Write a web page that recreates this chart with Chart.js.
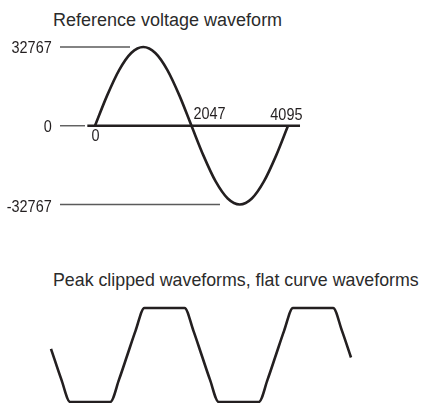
<!DOCTYPE html>
<html>
<head>
<meta charset="utf-8">
<script src="https://cdn.jsdelivr.net/npm/chart.js@4.4.1/dist/chart.umd.min.js"></script>
<style>
  html, body { margin: 0; padding: 0; background: #fff; }
  body { width: 424px; height: 403px; position: relative; overflow: hidden; }
  .title { position: absolute; left: 53px; font: 18px/18px "Liberation Sans", Arial, sans-serif; color: #2b2b2b; white-space: nowrap; }
  #refWrap { position: absolute; left: 0; top: 0; width: 424px; height: 230px; }
  #clipWrap { position: absolute; left: 0; top: 295px; width: 424px; height: 108px; }
</style>
</head>
<body>
<div class="title" style="top:11px">Reference voltage waveform</div>
<div class="title" style="top:271px;font-size:17.8px">Peak clipped waveforms, flat curve waveforms</div>
<div id="refWrap"><canvas id="refChart" width="424" height="230"></canvas></div>
<div id="clipWrap"><canvas id="clipChart" width="424" height="108"></canvas></div>
<script>
// sample index (12-bit table) and 16-bit amplitude of one reference period
const refSamples = [0, 256, 512, 768, 1024, 1280, 1536, 1792, 2047, 2304, 2560, 2816, 3072, 3328, 3584, 3840, 4095];
const refValues  = [0, 12540, 23170, 30273, 32767, 30273, 23170, 12540, 0, -12540, -23170, -30273, -32767, -30273, -23170, -12540, 0];

// full-scale levels shown on the left
const levelTicks = [32767, 0, -32767];
// sample markers along the zero line
const sampleTicks = [0, 2047, 4095];
const sampleTickLabels = ['0', '2047', '4095'];

// guide segments: [fromSample, toSample, level]
const levelGuides = [
  [-743, 743, 32767],
  [-743, -212, 0],
  [-743, 2652, -32767]
];
const zeroAxis = [-163, 4350];

// clipped waveform, phase in degrees and amplitude in the same 16-bit units
const clipPhase  = [-185, -160, -138.6, -41.4, -20, 0, 20, 41.4, 138.6, 160, 180, 200, 221.4, 318.6, 340, 360, 380, 401.4, 498.6, 520, 542];
const clipValues = [2856, -11207, -21626, -21626, -11207, 0, 11207, 21626, 21626, 11207, 0, -11207, -21626, -21626, -11207, 0, 11207, 21626, 21626, 11207, -1144];

const INK = '#231f20';
const GUIDE = '#5a5a5a';
const NUM_FONT = '17px "Liberation Sans", Arial, sans-serif';
const SQUEEZE = 0.85; // numbers are set in a narrow face

const toPoints = (xs, ys) => xs.map((x, i) => ({ x, y: ys[i] }));

const guideSets = levelGuides.map(([a, b, v]) => ({
  data: [{ x: a, y: v }, { x: b, y: v }],
  borderColor: GUIDE,
  borderWidth: 1.4,
  pointRadius: 0,
  clip: false
}));

function narrowText(ctx, text, x, y, align) {
  ctx.save();
  ctx.scale(SQUEEZE, 1);
  ctx.textAlign = align;
  ctx.fillText(text, x / SQUEEZE, y);
  ctx.restore();
}

// level numbers on the left and sample numbers beside the zero line
const waveLabels = {
  id: 'waveLabels',
  afterDatasetsDraw(chart) {
    const { ctx, scales: { x, y } } = chart;
    const y0 = y.getPixelForValue(0);
    const place = [
      { align: 'center', dx: 0.5, dy: 15.7 },
      { align: 'left', dx: 2, dy: -6.7 },
      { align: 'center', dx: -1.6, dy: -6.2 }
    ];
    ctx.save();
    ctx.fillStyle = INK;
    ctx.font = NUM_FONT;
    ctx.textBaseline = 'alphabetic';
    levelTicks.forEach(v => {
      narrowText(ctx, String(v), 51.7, y.getPixelForValue(v) + (v < 0 ? 8 : 6.2), 'right');
    });
    sampleTicks.forEach((v, i) => {
      const p = place[i];
      narrowText(ctx, sampleTickLabels[i], x.getPixelForValue(v) + p.dx, y0 + p.dy, p.align);
    });
    ctx.restore();
  }
};

const baseOptions = (xRange, yRange) => ({
  responsive: false,
  animation: false,
  events: [],
  layout: { padding: 0, autoPadding: false },
  plugins: { legend: { display: false }, tooltip: { enabled: false } },
  scales: {
    x: { type: 'linear', display: false, min: xRange[0], max: xRange[1] },
    y: { type: 'linear', display: false, min: yRange[0], max: yRange[1] }
  }
});

new Chart(document.getElementById('refChart'), {
  type: 'line',
  data: {
    datasets: [
      ...guideSets,
      {
        data: [{ x: zeroAxis[0], y: 0 }, { x: zeroAxis[1], y: 0 }],
        borderColor: INK,
        borderWidth: 2.6,
        pointRadius: 0,
        clip: false
      },
      {
        data: toPoints(refSamples, refValues),
        borderColor: INK,
        borderWidth: 2.6,
        pointRadius: 0,
        cubicInterpolationMode: 'monotone',
        clip: false
      }
    ]
  },
  options: baseOptions([-2016, 6981], [-43379, 52325]),
  plugins: [waveLabels]
});

new Chart(document.getElementById('clipChart'), {
  type: 'line',
  data: {
    datasets: [{
      data: toPoints(clipPhase, clipValues),
      borderColor: INK,
      borderWidth: 2.6,
      pointRadius: 0,
      cubicInterpolationMode: 'monotone',
      clip: false
    }]
  },
  options: baseOptions([-308.6, 718.9], [-22085, 27606])
});
</script>
</body>
</html>
